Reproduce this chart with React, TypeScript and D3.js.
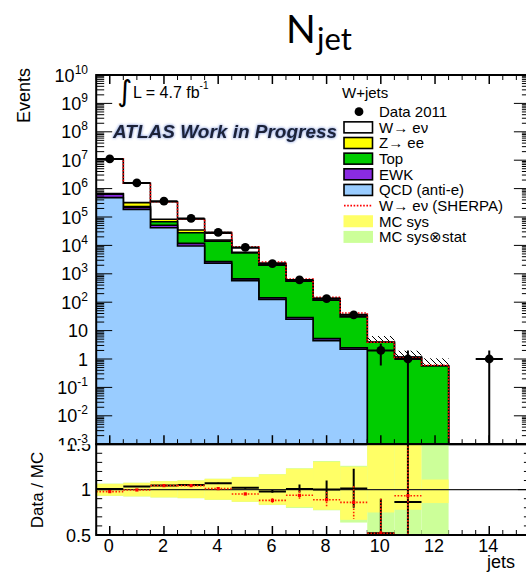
import React from "react";
import * as d3 from "d3";

// ---------- data ----------
const jetBins = [0, 1, 2, 3, 4, 5, 6, 7, 8, 9, 10, 11, 12, 13, 14, 15];
const qcd = [4.8e5, 1.86e5, 4.2e4, 9.5e3, 2.34e3, 573, 126, 25, 4.4, 2.2, 0, 0, 0, 0, 0, 0];
const ewk = [1.6e5, 3.4e4, 9e3, 2.3e3, 340, 90, 18, 4, 0.8, 0.3, 0, 0, 0, 0, 0, 0];
const topq = [3e3, 1.2e4, 1.7e4, 1.6e4, 1.15e4, 4.8e3, 1.85e3, 525, 112, 28, 3.87, 1.15, 0.57, 0, 0, 0];
const zee = [2.5e4, 8.8e4, 1.5e4, 7e3, 1.3e3, 250, 60, 12, 3, 1, 0, 0, 0, 0, 0, 0];
const wenu = [1.04e7, 1.22e6, 2.63e5, 5e4, 1.13e4, 2.6e3, 290, 40, 14, 4, 0, 0, 0, 0, 0, 0];
const sherpaTotal = [1.13e7, 1.59e6, 3.46e5, 8.5e4, 2.84e4, 8.9e3, 2.6e3, 650, 150, 41.6, 3.9, 1.08, 0.6, 0, 0, 0];
const dataCounts = [1.108e7, 1.59e6, 3.61e5, 8.9e4, 2.87e4, 8.47e3, 2.3e3, 611, 134, 36, 2, 1, 0, 0, 1, 0];
const mcUpper = [null, null, null, null, null, null, null, null, null, null, 6.45, 1.96, 1.06, null, null, null];

const ratioData = [1.007, 1.033, 1.044, 1.052, 1.07, 1.019, 0.98, 1.007, 1.0, 1.011, 0.52, 0.863];
const ratioDataErrUp = [0.001, 0.002, 0.003, 0.004, 0.006, 0.01, 0.015, 0.05, 0.1, 0.22, 0.38, 1.0];
const ratioDataErrDn = [0.001, 0.002, 0.003, 0.004, 0.006, 0.01, 0.015, 0.04, 0.1, 0.21, 0.4, 0.863];
const ratioSherpa = [0.978, 0.996, 1.044, 1.044, 1.011, 0.952, 0.881, 0.937, 0.889, 0.859, 0.52, 0.933];
const ratioSherpaErr = [0.001, 0.002, 0.003, 0.004, 0.006, 0.012, 0.025, 0.05, 0.085, 0.18, 0.38, 0.93];

const sysLo = [0.933, 0.926, 0.915, 0.907, 0.889, 0.867, 0.833, 0.807, 0.778, 0.667, 0.748, 0.778, 0.852];
const sysHi = [1.063, 1.074, 1.093, 1.1, 1.118, 1.137, 1.167, 1.23, 1.307, 1.252, 2.0, 2.0, 1.111];
const totLo = [0.93, 0.924, 0.913, 0.905, 0.887, 0.865, 0.83, 0.797, 0.772, 0.637, 0.52, 0.0, 0.0];
const totHi = [1.066, 1.076, 1.095, 1.102, 1.12, 1.14, 1.17, 1.235, 1.315, 1.262, 2.0, 2.0, 2.0];

const xTickLabels = [0, 2, 4, 6, 8, 10, 12, 14];
const yDecades = [-3, -2, -1, 0, 1, 2, 3, 4, 5, 6, 7, 8, 9, 10];
const ratioTickLabels = ["0.5", "1", "1.5"];

const legendItems = [
  { label: "Data 2011", kind: "marker", color: "#000" },
  { label: "W\u2192 e\u03bd", kind: "box", color: "#ffffff" },
  { label: "Z\u2192 ee", kind: "box", color: "#ffff00" },
  { label: "Top", kind: "box", color: "#00cc00" },
  { label: "EWK", kind: "box", color: "#8a2be2" },
  { label: "QCD (anti-e)", kind: "box", color: "#99ccff" },
  { label: "W\u2192 e\u03bd (SHERPA)", kind: "line", color: "#ff0000" },
  { label: "MC sys", kind: "band", color: "#ffff66" },
  { label: "MC sys\u2297stat", kind: "band", color: "#ccff99" },
];

const FONT = '"Liberation Sans", Arial, Helvetica, sans-serif';

export default function App() {
  const W = 526;
  const H = 572;
  const x = d3.scaleLinear().domain([-0.5, 15.5]).range([96.2, 529.9]);
  const y = d3.scaleLog().domain([1e-3, 1e10]).range([444.2, 75]);
  const yr = d3.scaleLinear().domain([0.5, 1.5]).range([535, 444.2]);
  const floor = 1e-3;
  const yc = (v: number) => (v > floor ? y(v) : y(floor));

  const cumEwk = jetBins.map((i) => qcd[i] + ewk[i]);
  const cumTop = jetBins.map((i) => cumEwk[i] + topq[i]);
  const cumZ = jetBins.map((i) => cumTop[i] + zee[i]);
  const cumW = jetBins.map((i) => cumZ[i] + wenu[i]);

  const stepArea = (vals: number[]) => {
    let p = `M${x(-0.5)},${y(floor)}`;
    vals.forEach((v, i) => {
      const yy = yc(v);
      p += `L${x(i - 0.5)},${yy}L${x(i + 0.5)},${yy}`;
    });
    p += `L${x(15.5)},${y(floor)}Z`;
    return p;
  };

  const layers = [
    { vals: cumW, color: "#ffffff" },
    { vals: cumZ, color: "#ffff00" },
    { vals: cumTop, color: "#00cc00" },
    { vals: cumEwk, color: "#8a2be2" },
    { vals: qcd, color: "#99ccff" },
  ];

  let sherpaPath = "";
  sherpaTotal.forEach((v, i) => {
    if (i > 12) return;
    const yy = yc(v);
    sherpaPath += `${i === 0 ? "M" : "L"}${x(i - 0.5)},${yy}L${x(i + 0.5)},${yy}`;
  });
  sherpaPath += `L${x(12.5)},${y(floor)}`;

  const x0 = x(-0.5);
  const x1 = x(15.5);
  const yTop = y(1e10);
  const yBot = y(floor);
  const rTop = yr(1.5);
  const rBot = yr(0.5);

  const yMajor = yDecades.map((k) => Math.pow(10, k));
  const yMinor: number[] = [];
  yDecades.slice(0, -1).forEach((k) => {
    for (let m = 2; m <= 9; m++) yMinor.push(m * Math.pow(10, k));
  });
  const xMinor = d3.range(-0.5, 15.51, 0.5).filter((v) => !(Number.isInteger(v) && v % 2 === 0));
  const xMajor = d3.range(0, 15.1, 2);
  const rMinor = d3.range(0.6, 1.45, 0.1).filter((v) => Math.abs(v - 1) > 0.01);
  const rMajor = [0.5, 1, 1.5];

  const legendRowY = legendItems.map((_, i) => 111.7 + i * 15.65);

  return (
    <svg width={W} height={H} style={{ position: "absolute", left: 0, top: 0, background: "#fff" }} fontFamily={FONT}>
      <defs>
        <clipPath id="mainClip">
          <rect x={x0} y={yTop} width={x1 - x0} height={yBot - yTop} />
        </clipPath>
        <clipPath id="ratioClip">
          <rect x={x0} y={rTop} width={x1 - x0} height={rBot - rTop} />
        </clipPath>
        <clipPath id="upperPad">
          <rect x={0} y={0} width={W} height={yBot + 1} />
        </clipPath>
        <clipPath id="lowerPad">
          <rect x={0} y={rTop} width={W} height={H - rTop} />
        </clipPath>
        <pattern id="hatch" patternUnits="userSpaceOnUse" width={6} height={6}>
          <path d="M-1,-1 L7,7 M-7,-1 L1,7 M5,-1 L13,7" stroke="#000" strokeWidth={1} />
        </pattern>
        <filter id="blurA" x="-10%" y="-30%" width="120%" height="160%">
          <feGaussianBlur stdDeviation={1.5} />
        </filter>
        <filter id="blurB" x="-10%" y="-30%" width="120%" height="160%">
          <feGaussianBlur stdDeviation={0.6} />
        </filter>
      </defs>

      <rect x={0} y={0} width={W} height={H} fill="#fff" />

      {/* Title */}
      <text x={286} y={43} fontSize={39} fontFamily='Lato, "Liberation Sans", sans-serif'>N</text>
      <text x={317} y={50} fontSize={31} fontFamily='Lato, "Liberation Sans", sans-serif'>jet</text>

      {/* ----- main pad ----- */}
      <g clipPath="url(#mainClip)">
        {layers.map((l, i) => (
          <path key={i} d={stepArea(l.vals)} fill={l.color} stroke="#000" strokeWidth={1.6} strokeLinejoin="miter" />
        ))}
        {mcUpper.map((u, i) =>
          u == null ? null : (
            <rect key={i} x={x(i - 0.5)} y={y(u)} width={x(i + 0.5) - x(i - 0.5)} height={yc(cumW[i]) - y(u)} fill="url(#hatch)" />
          )
        )}
        <path d={sherpaPath} fill="none" stroke="#ff0000" strokeWidth={1.6} strokeDasharray="1.6,1.6" />
        {dataCounts.map((d, i) => {
          if (d <= 0) return null;
          const e = Math.sqrt(d);
          return (
            <g key={i}>
              <line x1={x(i)} x2={x(i)} y1={yc(d + e)} y2={yc(d - e)} stroke="#000" strokeWidth={2} />
              <line x1={x(i - 0.5)} x2={x(i + 0.5)} y1={y(d)} y2={y(d)} stroke="#000" strokeWidth={2} />
              <circle cx={x(i)} cy={y(d)} r={4.4} fill="#000" />
            </g>
          );
        })}
      </g>

      {/* main ticks */}
      <g stroke="#000" strokeWidth={1}>
        {yMajor.map((v, i) => (
          <g key={"ym" + i}>
            <line x1={x0} x2={x0 + 16} y1={y(v)} y2={y(v)} />
            <line x1={x1} x2={x1 - 16} y1={y(v)} y2={y(v)} />
          </g>
        ))}
        {yMinor.map((v, i) => (
          <g key={"yn" + i}>
            <line x1={x0} x2={x0 + 8} y1={y(v)} y2={y(v)} />
            <line x1={x1} x2={x1 - 8} y1={y(v)} y2={y(v)} />
          </g>
        ))}
        {xMajor.map((v, i) => (
          <g key={"xm" + i}>
            <line x1={x(v)} x2={x(v)} y1={yTop} y2={yTop + 9} strokeWidth={1.5} />
            <line x1={x(v)} x2={x(v)} y1={yBot} y2={yBot - 9} strokeWidth={1.5} />
            <line x1={x(v)} x2={x(v)} y1={rBot} y2={rBot - 9} strokeWidth={1.5} />
          </g>
        ))}
        {xMinor.map((v, i) => (
          <g key={"xn" + i}>
            <line x1={x(v)} x2={x(v)} y1={yTop} y2={yTop + 5} />
            <line x1={x(v)} x2={x(v)} y1={yBot} y2={yBot - 5} />
            <line x1={x(v)} x2={x(v)} y1={rBot} y2={rBot - 5} />
          </g>
        ))}
      </g>
      <rect x={x0} y={yTop} width={x1 - x0} height={yBot - yTop} fill="none" stroke="#000" strokeWidth={2} />

      {/* y labels main */}
      <g fontSize={18} fill="#000" clipPath="url(#upperPad)">
        {yDecades.map((k) => {
          const yy = y(Math.pow(10, k)) + 6.5;
          if (k === 0) return <text key={k} x={88} y={yy} textAnchor="end">1</text>;
          if (k === 1) return <text key={k} x={88} y={yy} textAnchor="end">10</text>;
          return (
            <text key={k} x={88} y={yy} textAnchor="end">
              10<tspan dy={-8} fontSize={12}>{k}</tspan>
            </text>
          );
        })}
      </g>

      <text transform="translate(30,68) rotate(-90)" textAnchor="end" fontSize={18}>Events</text>

      {/* lumi + ATLAS */}
      <text x={117} y={101} fontSize={29} fontFamily='"DejaVu Sans", sans-serif'>{"\u222B"}</text>
      <text x={133} y={98} fontSize={16}>
        L = 4.7 fb<tspan dy={-9} fontSize={10}>-1</tspan>
      </text>
      <g fontSize={19} fontWeight="bold" fontStyle="italic">
        <text x={113} y={138} fill="#3a5fc8" filter="url(#blurA)" opacity={0.8}>ATLAS Work in Progress</text>
        <text x={113} y={138} fill="#1a2238" filter="url(#blurB)">ATLAS Work in Progress</text>
      </g>

      {/* legend */}
      <g fontSize={15}>
        <text x={342} y={98}>W+jets</text>
        {legendItems.map((it, i) => {
          const c = legendRowY[i];
          let sym = null;
          if (it.kind === "marker") sym = <circle cx={359} cy={c} r={4.4} fill="#000" />;
          else if (it.kind === "box")
            sym = <rect x={344} y={c - 5.5} width={28.5} height={11} fill={it.color} stroke="#000" strokeWidth={1.6} />;
          else if (it.kind === "line")
            sym = <line x1={344} x2={372.5} y1={c} y2={c} stroke={it.color} strokeWidth={1.6} strokeDasharray="1.6,1.6" />;
          else sym = <rect x={343.5} y={c - 6} width={29.5} height={12} fill={it.color} />;
          return (
            <g key={i}>
              {sym}
              <text x={379} y={c + 5.3}>{it.label}</text>
            </g>
          );
        })}
      </g>

      {/* ----- ratio pad ----- */}
      <g clipPath="url(#ratioClip)">
        {totLo.map((lo, i) => (
          <rect key={"g" + i} x={x(i - 0.5)} y={yr(totHi[i])} width={x(i + 0.5) - x(i - 0.5)} height={yr(lo) - yr(totHi[i])} fill="#ccff99" />
        ))}
        {sysLo.map((lo, i) => (
          <rect key={"s" + i} x={x(i - 0.5)} y={yr(sysHi[i])} width={x(i + 0.5) - x(i - 0.5)} height={yr(lo) - yr(sysHi[i])} fill="#ffff66" />
        ))}
        <line x1={x0} x2={x1} y1={yr(1)} y2={yr(1)} stroke="#222" strokeWidth={1.2} />
        {ratioData.map((r, i) => (
          <g key={"rd" + i} stroke="#000" strokeWidth={2}>
            <line x1={x(i - 0.5)} x2={x(i + 0.5)} y1={yr(r)} y2={yr(r)} />
            <line x1={x(i)} x2={x(i)} y1={yr(r + ratioDataErrUp[i])} y2={yr(r - ratioDataErrDn[i])} />
          </g>
        ))}
        {ratioSherpa.map((r, i) => (
          <g key={"rs" + i} stroke="#ff2200" strokeWidth={1.6} strokeDasharray="1.6,1.6">
            <line x1={x(i - 0.5)} x2={x(i + 0.5)} y1={yr(r)} y2={yr(r)} />
            <line x1={x(i)} x2={x(i)} y1={yr(r + ratioSherpaErr[i])} y2={yr(r - ratioSherpaErr[i])} />
            <rect x={x(i) - 1.6} y={yr(r) - 1.6} width={3.2} height={3.2} fill="#ff0000" stroke="none" />
          </g>
        ))}
      </g>
      <g stroke="#000" strokeWidth={1}>
        {rMajor.map((v, i) => (
          <g key={"rm" + i}>
            <line x1={x0} x2={x0 + 12} y1={yr(v)} y2={yr(v)} />
            <line x1={x1} x2={x1 - 12} y1={yr(v)} y2={yr(v)} />
          </g>
        ))}
        {rMinor.map((v, i) => (
          <g key={"rn" + i}>
            <line x1={x0} x2={x0 + 6} y1={yr(v)} y2={yr(v)} />
            <line x1={x1} x2={x1 - 6} y1={yr(v)} y2={yr(v)} />
          </g>
        ))}
      </g>
      <rect x={x0} y={rTop} width={x1 - x0} height={rBot - rTop} fill="none" stroke="#000" strokeWidth={2} />

      <g fontSize={18} clipPath="url(#lowerPad)">
        {ratioTickLabels.map((t) => (
          <text key={t} x={91} y={yr(+t) + 6.5} textAnchor="end">{t}</text>
        ))}
      </g>
      <text transform="translate(43,490) rotate(-90)" textAnchor="middle" fontSize={17}>Data / MC</text>

      <g fontSize={18}>
        {xTickLabels.map((v) => (
          <text key={v} x={x(v) - 1} y={552} textAnchor="middle">{v}</text>
        ))}
      </g>
      <text x={487} y={568} fontSize={18}>jets</text>
    </svg>
  );
}
